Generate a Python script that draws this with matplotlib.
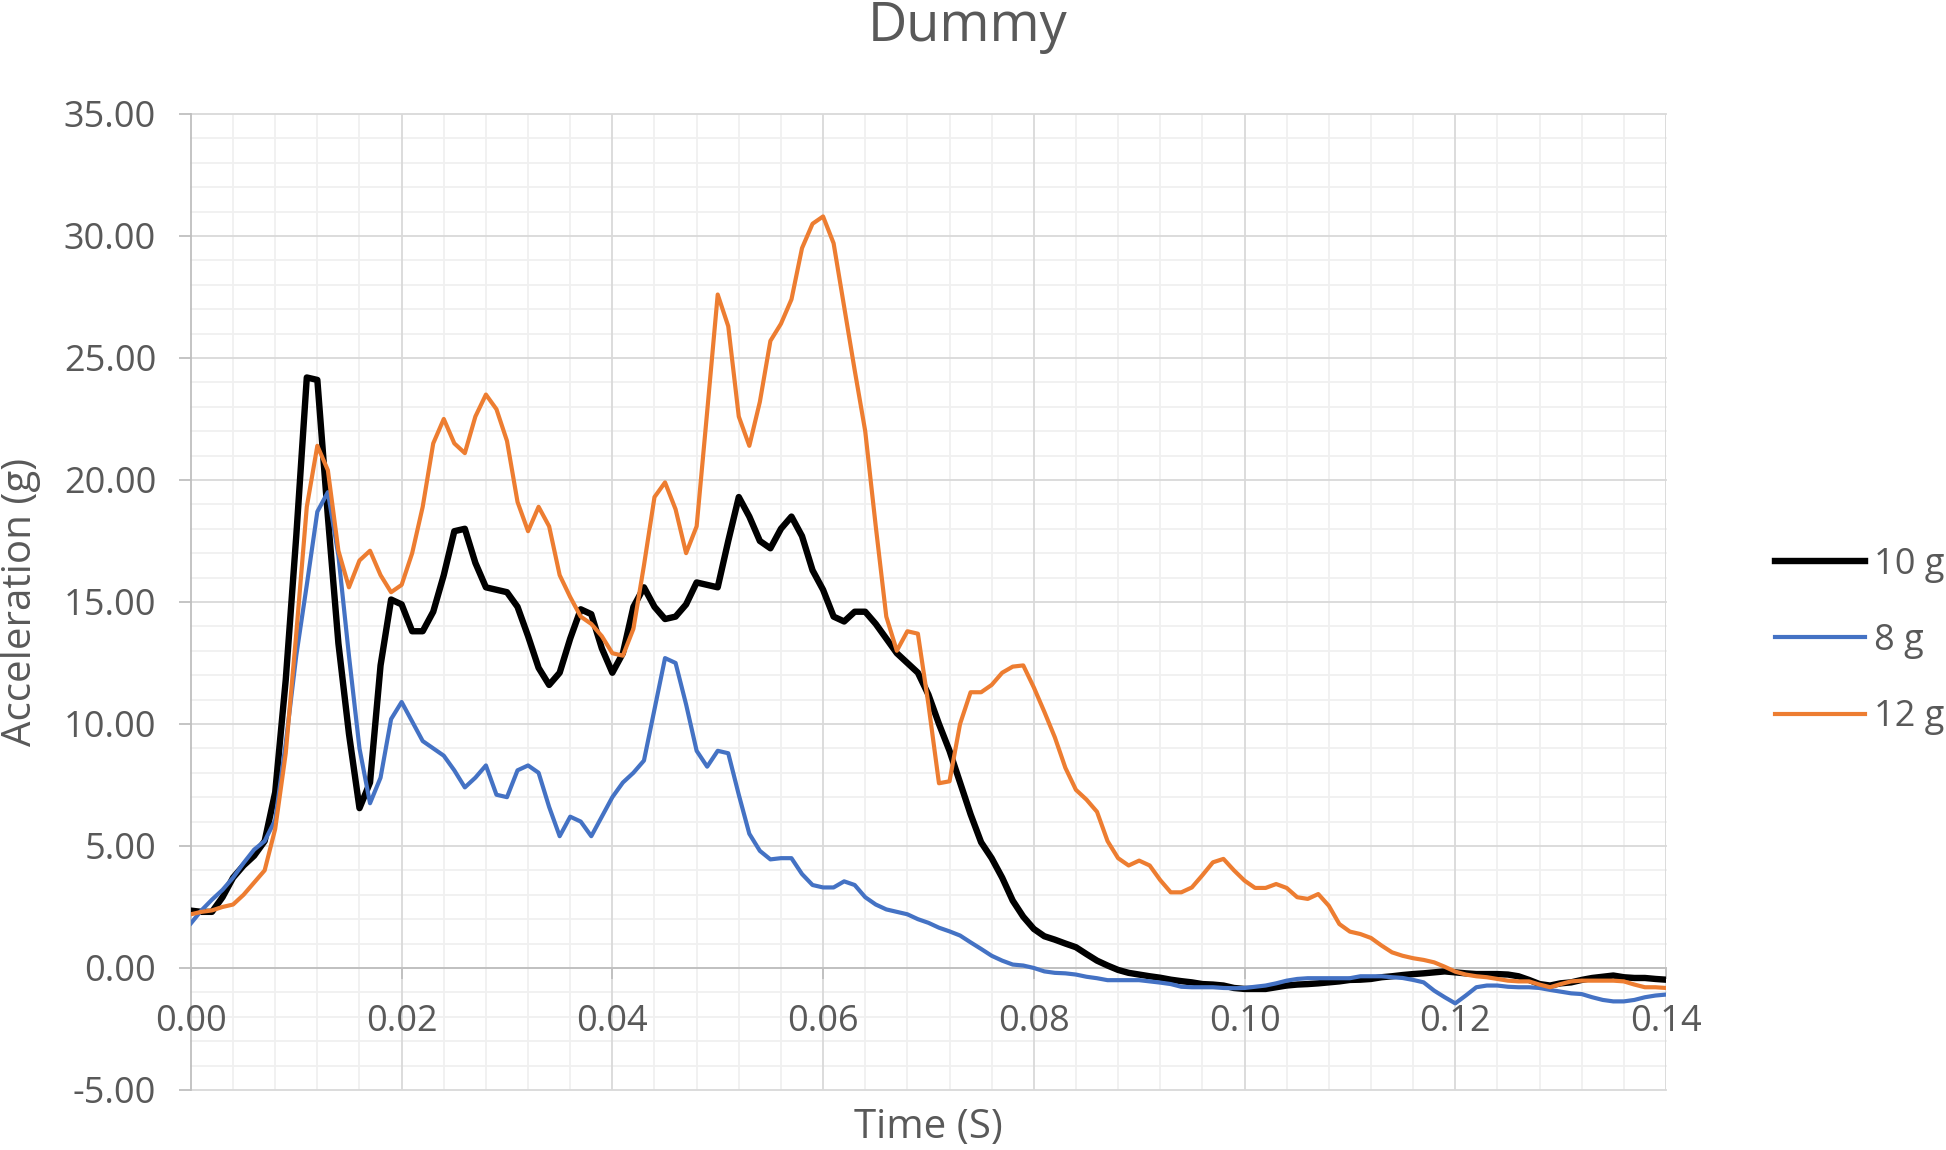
import numpy as np
import matplotlib
matplotlib.use("Agg")
import matplotlib.pyplot as plt
from matplotlib.ticker import MultipleLocator, FormatStrFormatter

# sampled every 1 ms, 0 .. 0.14 s
time_s = np.round(np.arange(141) * 0.001, 3)

accel_10g = [
    2.35, 2.3, 2.3, 2.9, 3.7, 4.2, 4.6, 5.2, 7.2, 11.8,
    17.7, 24.2, 24.1, 18.5, 13.3, 9.6, 6.55, 7.6, 12.4, 15.1,
    14.9, 13.8, 13.8, 14.6, 16.1, 17.9, 18.0, 16.6, 15.6, 15.5,
    15.4, 14.8, 13.6, 12.3, 11.6, 12.1, 13.5, 14.7, 14.5, 13.1,
    12.1, 12.9, 14.8, 15.6, 14.8, 14.3, 14.4, 14.9, 15.8, 15.7,
    15.6, 17.5, 19.3, 18.5, 17.5, 17.2, 18.0, 18.5, 17.7, 16.3,
    15.5, 14.4, 14.2, 14.6, 14.6, 14.1, 13.5, 12.9, 12.5, 12.1,
    11.2, 10.0, 8.9, 7.6, 6.3, 5.15, 4.5, 3.7, 2.76, 2.1,
    1.6, 1.3, 1.16, 1.0, 0.85, 0.57, 0.3, 0.1, -0.08, -0.2,
    -0.27, -0.34, -0.4, -0.48, -0.54, -0.59, -0.66, -0.68, -0.72, -0.82,
    -0.86, -0.86, -0.86, -0.79, -0.72, -0.68, -0.66, -0.63, -0.59, -0.55,
    -0.49, -0.48, -0.45, -0.38, -0.34, -0.29, -0.25, -0.22, -0.18, -0.14,
    -0.18, -0.22, -0.25, -0.25, -0.25, -0.27, -0.34, -0.49, -0.66, -0.72,
    -0.63, -0.59, -0.49, -0.41, -0.36, -0.31, -0.38, -0.41, -0.41, -0.45,
    -0.48,
]

accel_8g = [
    1.83, 2.36, 2.8, 3.2, 3.7, 4.3, 4.85, 5.2, 6.06, 9.2,
    12.8, 15.7, 18.7, 19.5, 16.9, 12.8, 9.0, 6.75, 7.8, 10.2,
    10.9, 10.1, 9.3, 9.0, 8.7, 8.1, 7.4, 7.8, 8.3, 7.1,
    7.0, 8.1, 8.3, 8.0, 6.6, 5.4, 6.2, 6.0, 5.4, 6.2,
    7.0, 7.6, 8.0, 8.5, 10.6, 12.7, 12.5, 10.8, 8.9, 8.25,
    8.9, 8.8, 7.1, 5.5, 4.8, 4.45, 4.5, 4.5, 3.85, 3.4,
    3.3, 3.3, 3.55, 3.4, 2.9, 2.6, 2.4, 2.3, 2.2, 2.0,
    1.85, 1.65, 1.5, 1.33, 1.05, 0.78, 0.5, 0.3, 0.14, 0.1,
    0.0, -0.14, -0.2, -0.22, -0.27, -0.36, -0.42, -0.5, -0.5, -0.5,
    -0.5, -0.55, -0.6, -0.66, -0.77, -0.79, -0.79, -0.79, -0.82, -0.83,
    -0.82, -0.77, -0.72, -0.63, -0.52, -0.45, -0.42, -0.42, -0.42, -0.42,
    -0.42, -0.34, -0.34, -0.34, -0.38, -0.41, -0.49, -0.59, -0.93, -1.2,
    -1.45, -1.13, -0.79, -0.72, -0.72, -0.77, -0.79, -0.79, -0.82, -0.9,
    -0.97, -1.04, -1.07, -1.2, -1.31, -1.37, -1.37, -1.31, -1.2, -1.13,
    -1.09,
]

accel_12g = [
    2.2, 2.3, 2.36, 2.5, 2.6, 3.0, 3.5, 4.0, 5.7, 8.8,
    13.7, 18.9, 21.4, 20.4, 17.1, 15.6, 16.7, 17.1, 16.1, 15.4,
    15.7, 17.0, 18.9, 21.5, 22.5, 21.5, 21.1, 22.6, 23.5, 22.9,
    21.6, 19.1, 17.9, 18.9, 18.1, 16.1, 15.2, 14.4, 14.1, 13.6,
    12.9, 12.8, 13.9, 16.5, 19.3, 19.9, 18.8, 17.0, 18.1, 22.8,
    27.6, 26.3, 22.6, 21.4, 23.2, 25.7, 26.4, 27.4, 29.5, 30.5,
    30.8, 29.7, 27.1, 24.5, 22.0, 18.1, 14.4, 13.0, 13.8, 13.7,
    10.8, 7.57, 7.65, 10.0, 11.3, 11.3, 11.6, 12.1, 12.35, 12.4,
    11.5, 10.5, 9.45, 8.2, 7.3, 6.9, 6.4, 5.2, 4.5, 4.2,
    4.4, 4.2, 3.6, 3.1, 3.1, 3.3, 3.8, 4.33, 4.47, 4.0,
    3.58, 3.28, 3.28, 3.44, 3.28, 2.9, 2.83, 3.03, 2.55, 1.8,
    1.49, 1.39, 1.23, 0.92, 0.64, 0.5, 0.4, 0.33, 0.23, 0.05,
    -0.15, -0.27, -0.34, -0.38, -0.45, -0.52, -0.55, -0.55, -0.68, -0.79,
    -0.66, -0.55, -0.52, -0.52, -0.52, -0.52, -0.55, -0.68, -0.79, -0.79,
    -0.82,
]

series_labels = ["10 g", "8 g", "12 g"]

TXT = "#595959"


def main():
    plt.rcParams["font.family"] = ["Open Sans", "DejaVu Sans"]

    fig = plt.figure(figsize=(19.46, 11.5), dpi=100)
    ax = fig.add_axes([0.0981, 0.0522, 0.7580, 0.8487])

    ax.set_xlim(0, 0.14)
    ax.set_ylim(-5, 35)

    # grid drawn by hand so tick labels sit on top of it
    for v in np.arange(-5, 35.5, 1):
        major = abs(v % 5) < 1e-9
        ax.axhline(v, color="#d9d9d9" if major else "#f0f0f0", lw=1.3,
                   zorder=0.2 if major else 0.1, clip_on=False)
    for v in np.arange(0.004, 0.1405, 0.004):
        major = abs((v / 0.02) - round(v / 0.02)) < 1e-6
        ax.axvline(v, color="#d9d9d9" if major else "#f0f0f0", lw=1.3,
                   zorder=0.2 if major else 0.1)

    ax.plot(time_s, accel_10g, color="black", lw=4.6, label=series_labels[0],
            zorder=3)
    ax.plot(time_s, accel_8g, color="#4472C4", lw=3.0, label=series_labels[1],
            zorder=3)
    ax.plot(time_s, accel_12g, color="#ED7D31", lw=3.0, label=series_labels[2],
            zorder=3)

    ax.xaxis.set_major_locator(MultipleLocator(0.02))
    ax.yaxis.set_major_locator(MultipleLocator(5))
    ax.xaxis.set_major_formatter(FormatStrFormatter("%.2f"))
    ax.yaxis.set_major_formatter(FormatStrFormatter("%.2f"))

    for s in ("top", "right"):
        ax.spines[s].set_visible(False)
    ax.spines["left"].set_color("#bfbfbf")
    ax.spines["left"].set_linewidth(1.3)
    ax.spines["bottom"].set_position(("data", 0))
    ax.spines["bottom"].set_color("#bfbfbf")
    ax.spines["bottom"].set_linewidth(1.3)
    ax.spines["left"].set_zorder(0.3)
    ax.spines["bottom"].set_zorder(0.3)

    ax.tick_params(axis="y", which="major", direction="out", length=9,
                   width=1.3, color="#bfbfbf", labelsize=26, labelcolor=TXT,
                   pad=16)
    ax.tick_params(axis="x", which="major", direction="out", length=8,
                   width=1.3, color="#bfbfbf", labelsize=26, labelcolor=TXT,
                   pad=18)

    fig.text(0.497, 1 - 41 / 1150, "Dummy", fontsize=39, color=TXT,
             ha="center", va="baseline")
    fig.text(21 / 1946, 1 - 602 / 1150, "Acceleration (g)", fontsize=29,
             color=TXT, rotation=90, ha="center", va="center")
    fig.text(928 / 1946, 1 - 1128 / 1150, "Time (S)", fontsize=29,
             color=TXT, ha="center", va="center")

    leg = fig.legend(loc="center left", bbox_to_anchor=(1775 / 1946, 1 - 641 / 1150),
                     frameon=False, fontsize=26, handlelength=2.5,
                     handletextpad=0.25, labelspacing=1.12, borderpad=0,
                     borderaxespad=0)
    for t in leg.get_texts():
        t.set_color(TXT)

    fig.savefig("out.png", dpi=100)


if __name__ == "__main__":
    main()
